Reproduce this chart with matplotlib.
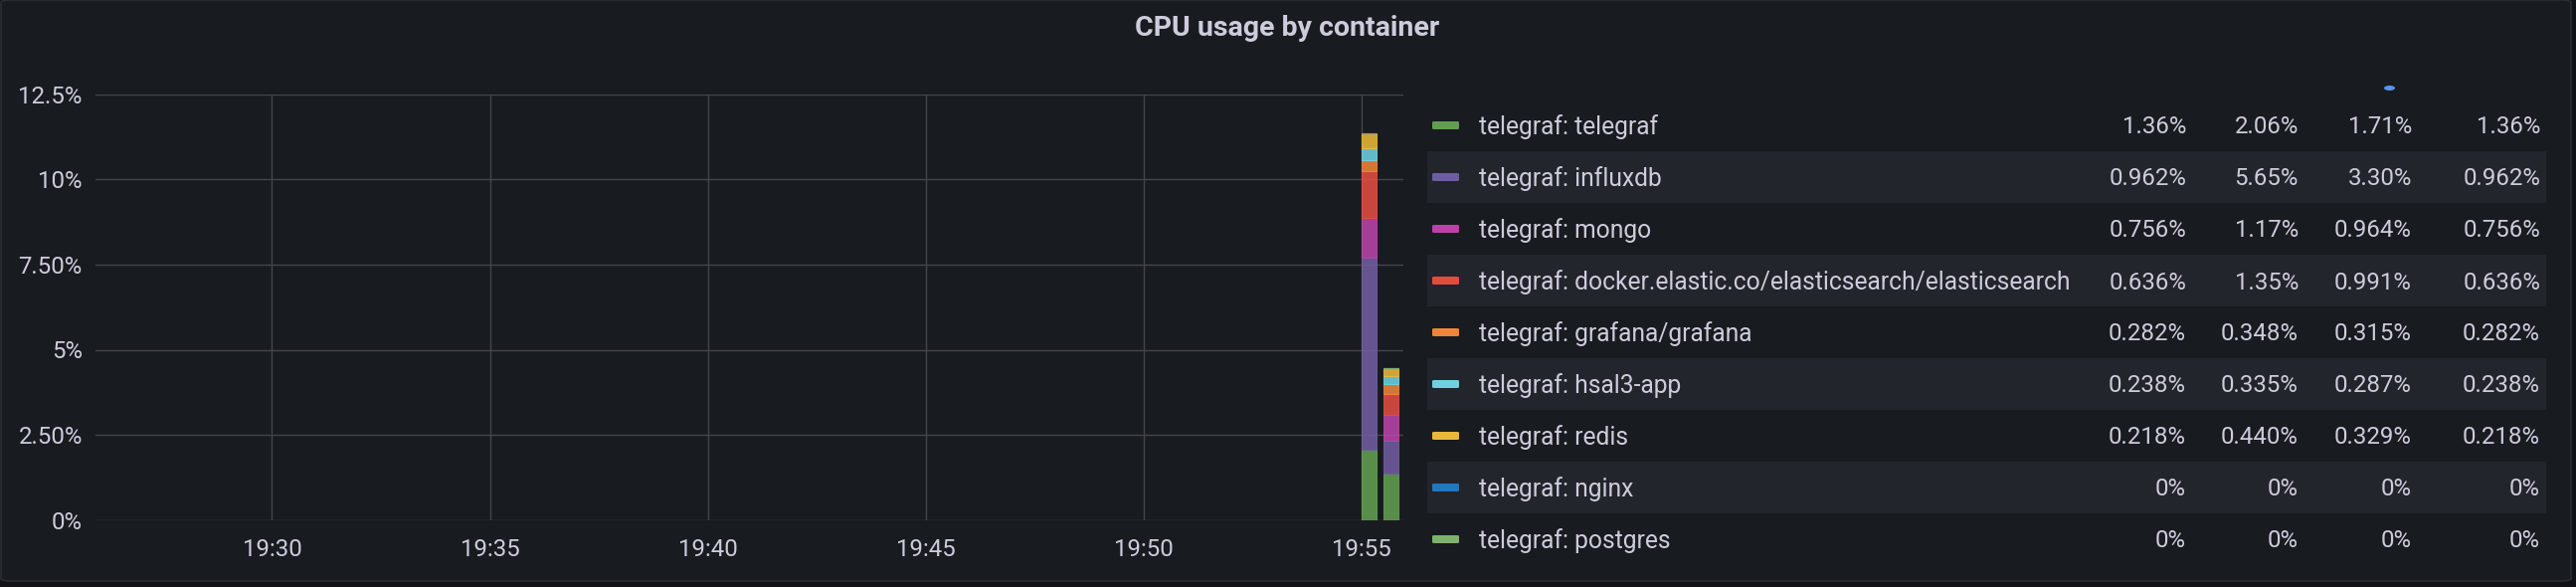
import matplotlib
matplotlib.use("Agg")
import matplotlib.pyplot as plt
from matplotlib.patches import FancyBboxPatch, Rectangle, Ellipse

plt.rcParams['font.family'] = ['Roboto', 'DejaVu Sans']

# data
series = ["telegraf: telegraf", "telegraf: influxdb", "telegraf: mongo",
          "telegraf: docker.elastic.co/elasticsearch/elasticsearch",
          "telegraf: grafana/grafana", "telegraf: hsal3-app", "telegraf: redis",
          "telegraf: nginx", "telegraf: postgres"]
colors = ["#629e51", "#705da0", "#ba43a9", "#e24d42", "#ef843c",
          "#6ed0e0", "#eab839", "#1f78c1", "#7eb26d"]
times = ["19:55:10", "19:55:40"]
cpu_first = [2.06, 5.65, 1.17, 1.35, 0.348, 0.335, 0.440, 0, 0]
cpu_last = [1.36, 0.962, 0.756, 0.636, 0.282, 0.238, 0.218, 0, 0]

leg_min = ["1.36%", "0.962%", "0.756%", "0.636%", "0.282%", "0.238%", "0.218%", "0%", "0%"]
leg_max = ["2.06%", "5.65%", "1.17%", "1.35%", "0.348%", "0.335%", "0.440%", "0%", "0%"]
leg_mean = ["1.71%", "3.30%", "0.964%", "0.991%", "0.315%", "0.287%", "0.329%", "0%", "0%"]
leg_last = ["1.36%", "0.962%", "0.756%", "0.636%", "0.282%", "0.238%", "0.218%", "0%", "0%"]

xticks = [30, 35, 40, 45, 50, 55]
xtick_labels = ["19:30", "19:35", "19:40", "19:45", "19:50", "19:55"]
yticks = [0, 2.5, 5, 7.5, 10, 12.5]
ytick_labels = ["0%", "2.50%", "5%", "7.50%", "10%", "12.5%"]

BG = "#181b1f"
TXT = "#ccccdc"
GRID = "#434549"
W, H = 2590, 590


def fx(x):
    return x / W


def fy(y):
    return 1 - y / H


def to_min(t):
    h, m, s = [int(v) for v in t.split(":")]
    return (h - 19) * 60 + m + s / 60


fig = plt.figure(figsize=(25.9, 5.9), dpi=100, facecolor="#111217")

# panel background, kept behind the axes
panel = FancyBboxPatch((fx(1), fy(584)), fx(2584), 584 / H,
                       boxstyle="round,pad=0,rounding_size=0.004",
                       transform=fig.transFigure, facecolor=BG,
                       edgecolor="#2a2d32", linewidth=1.2, zorder=-10)
fig.add_artist(panel)

fig.text(fx(1294), fy(28), "CPU usage by container", color=TXT,
         fontsize=20.5, fontweight="bold", ha="center", va="center")

# plot area
ax = fig.add_axes([fx(96), fy(522.7), fx(1410.7 - 96), (522.7 - 94.7) / H])
ax.set_facecolor(BG)
for s in ax.spines.values():
    s.set_visible(False)

xs = [to_min(t) for t in times]
bottom = [0, 0]
for name, col, a, b in zip(series, colors, cpu_first, cpu_last):
    ax.bar(xs, [a, b], width=1 / 3, bottom=bottom, color=col, alpha=0.88,
           edgecolor=col, linewidth=0.8, zorder=3)
    bottom = [bottom[0] + a, bottom[1] + b]

ax.set_xlim(25.95, 55.95)
ax.set_ylim(0, 12.5)
ax.set_xticks(xticks)
ax.set_xticklabels(xtick_labels)
ax.set_yticks(yticks)
ax.set_yticklabels(ytick_labels)
ax.tick_params(length=0, labelsize=17.3, colors=TXT)
ax.tick_params(axis="x", pad=13)
ax.tick_params(axis="y", pad=9.5)
ax.grid(True, color=GRID, linewidth=1.0, zorder=0)
ax.set_axisbelow(True)

# legend table
cols_x = [2198, 2311, 2425, 2554]
row0, step = 126, 52
for i, (name, col) in enumerate(zip(series, colors)):
    yc = row0 + step * i
    if i % 2 == 1:
        fig.add_artist(Rectangle((fx(1435), fy(yc + 26)), fx(2560 - 1435), step / H,
                                 transform=fig.transFigure, facecolor="#22252b",
                                 edgecolor="none", zorder=-5))
    fig.add_artist(FancyBboxPatch((fx(1440), fy(yc + 4)), fx(27), 8 / H,
                                  boxstyle="round,pad=0,rounding_size=0.0012",
                                  transform=fig.transFigure, facecolor=col,
                                  edgecolor="none"))
    fig.text(fx(1487), fy(yc + 8.5), name, color=TXT, fontsize=17.7,
             ha="left", va="baseline")
    for cx, vals in zip(cols_x, [leg_min, leg_max, leg_mean, leg_last]):
        fig.text(fx(cx), fy(yc + 8.5), vals[i], color=TXT, fontsize=17.3,
                 ha="right", va="baseline")

# sort caret of the scrolled-off header
fig.add_artist(Ellipse((fx(2402.5), fy(88.5)), fx(11), 5 / H,
                       transform=fig.transFigure, facecolor="#5794f2",
                       edgecolor="none"))

fig.savefig("out.png", dpi=100, facecolor=fig.get_facecolor())
